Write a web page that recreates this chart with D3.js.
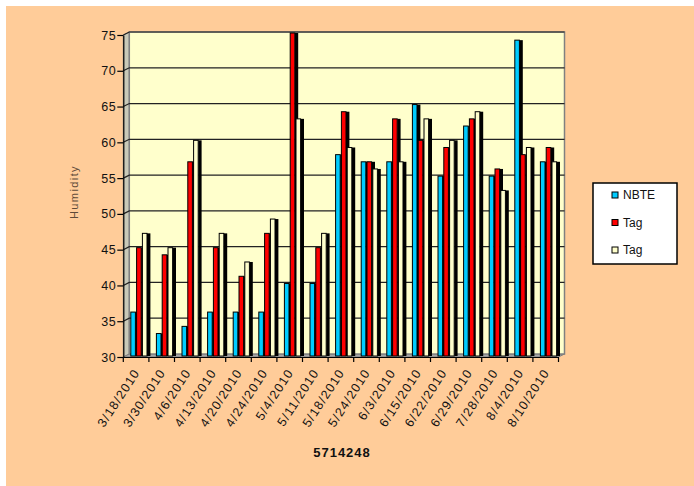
<!DOCTYPE html>
<html>
<head>
<meta charset="utf-8">
<script src="https://cdn.jsdelivr.net/npm/d3@7"></script>
<style>
  html, body { margin: 0; padding: 0; background: #ffffff; }
  svg { display: block; }
  text { font-family: "Liberation Sans", Arial, sans-serif; }
</style>
</head>
<body>
<svg id="chart" width="694" height="486"></svg>
<script>
// Sampling dates for station 5714248
const categories = ["3/18/2010", "3/30/2010", "4/6/2010", "4/13/2010", "4/20/2010", "4/24/2010",
  "5/4/2010", "5/11/2010", "5/18/2010", "5/24/2010", "6/3/2010", "6/15/2010", "6/22/2010",
  "6/29/2010", "7/28/2010", "8/4/2010", "8/10/2010"];

// Humidity readings (%)
const nbteValues = [36, 33, 34, 36, 36, 36, 40, 40, 58, 57, 57, 65, 55, 62, 55, 74, 57];
const tagValuesA = [45, 44, 57, 45, 41, 47, 75, 45, 64, 57, 63, 60, 59, 63, 56, 58, 59];
const tagValuesB = [47, 45, 60, 47, 43, 49, 63, 47, 59, 56, 57, 63, 60, 64, 53, 59, 57];

const seriesNames = ["NBTE", "Tag", "Tag"];
const seriesColors = ["#00CCFF", "#FF0000", "#FFFFCC"];
const yTickValues = [30, 35, 40, 45, 50, 55, 60, 65, 70, 75];

const series = [nbteValues, tagValuesA, tagValuesB].map((vals, s) => ({
  name: seriesNames[s], color: seriesColors[s], index: s,
  values: vals.map((v, i) => ({ cat: categories[i], value: v }))
}));

const svg = d3.select("#chart");

// chart background (thin white margin on top and left)
svg.append("rect").attr("x", 6).attr("y", 6).attr("width", 688).attr("height", 480)
  .attr("fill", "#FFCC99");

const xLeft = 123.3, xRight = 558.5;
const x = d3.scaleBand().domain(categories).range([xLeft, xRight]);
const y = d3.scaleLinear().domain([30, 75]).range([357, 35]);
const depthX = 6, depthY = -3;

// 3D walls: left wall, floor, back wall
const walls = svg.append("g");
walls.append("path")
  .attr("d", `M${xLeft},${y(75)}L${xLeft + depthX},${y(75) + depthY}L${xLeft + depthX},${y(30) + depthY}L${xLeft},${y(30)}Z`)
  .attr("fill", "#C9C9B8").attr("stroke", "#808080");
walls.append("path")
  .attr("d", `M${xLeft},${y(30)}L${xLeft + depthX},${y(30) + depthY}L${xRight + depthX},${y(30) + depthY}L${xRight},${y(30)}Z`)
  .attr("fill", "#A6A6A6").attr("stroke", "#808080");
walls.append("rect")
  .attr("x", xLeft + depthX).attr("y", y(75) + depthY)
  .attr("width", xRight - xLeft).attr("height", y(30) - y(75))
  .attr("fill", "#FFFFCC").attr("stroke", "#808080").attr("stroke-width", 1.5);

// gridlines across the side wall and back wall
walls.selectAll("path.grid").data(yTickValues.slice(1)).join("path")
  .attr("class", "grid")
  .attr("d", v => `M${xLeft},${y(v)}L${xLeft + depthX},${y(v) + depthY}L${xRight + depthX},${y(v) + depthY}`)
  .attr("fill", "none").attr("stroke", "#222").attr("stroke-width", 1.2);

// bars: coloured front face with a dark side face
const barPitch = 5.8, faceW = 4.6, sideW = 3.4, groupOffset = 7.5;
const barLayer = svg.append("g");
const groups = barLayer.selectAll("g.series").data(series).join("g").attr("class", "series");
groups.each(function (sr) {
  const g = d3.select(this);
  const bx = d => x(d.cat) + groupOffset + sr.index * barPitch;
  g.selectAll("rect.side").data(sr.values).join("rect").attr("class", "side")
    .attr("x", d => bx(d) + faceW).attr("y", d => y(d.value) - 2)
    .attr("width", sideW).attr("height", d => y(30) - 1 - (y(d.value) - 2))
    .attr("fill", "#000");
  g.selectAll("rect.face").data(sr.values).join("rect").attr("class", "face")
    .attr("x", d => bx(d)).attr("y", d => y(d.value) - 2)
    .attr("width", faceW).attr("height", d => y(30) - 1 - (y(d.value) - 2))
    .attr("fill", sr.color).attr("stroke", "#000").attr("stroke-width", 1);
});

// value axis
const yAxis = svg.append("g").attr("transform", `translate(${xLeft},0)`)
  .call(d3.axisLeft(y).tickValues(yTickValues).tickSize(6).tickSizeOuter(0).tickPadding(1));
yAxis.select(".domain").attr("stroke", "#000").attr("stroke-width", 1.2);
yAxis.selectAll(".tick line").attr("stroke", "#000").attr("stroke-width", 1.2);
yAxis.selectAll(".tick text").attr("font-size", 12.5).attr("letter-spacing", 0.6)
  .attr("fill", "#111").style("font-family", "'Liberation Sans', Arial, sans-serif");

// category axis with ticks on the category boundaries
const xAxis = svg.append("g").attr("transform", `translate(0,${y(30)})`)
  .call(d3.axisBottom(x).tickSize(0).tickSizeOuter(0).tickFormat(""));
xAxis.select(".domain").attr("stroke", "#000").attr("stroke-width", 1.2);
const boundaries = categories.map(c => x(c)).concat([xRight]);
xAxis.selectAll("line.bound").data(boundaries).join("line").attr("class", "bound")
  .attr("x1", d => d).attr("x2", d => d).attr("y1", 0).attr("y2", 5)
  .attr("stroke", "#000").attr("stroke-width", 1.2);
xAxis.selectAll("text.cat").data(categories).join("text").attr("class", "cat")
  .attr("transform", c => `translate(${x(c) + x.bandwidth() / 2 + 0.5},${13}) rotate(-57)`)
  .attr("text-anchor", "end").attr("dy", "0.35em")
  .attr("font-size", 12.5).attr("letter-spacing", 1.2).attr("fill", "#111")
  .text(c => c);

// axis titles
svg.append("text").attr("x", 342).attr("y", 457).attr("text-anchor", "middle")
  .attr("font-size", 13).attr("font-weight", "bold").attr("letter-spacing", 1)
  .attr("fill", "#111").text("5714248");
svg.append("text").attr("transform", "translate(78,192) rotate(-90)")
  .attr("text-anchor", "middle").attr("font-size", 11).attr("letter-spacing", 1.4)
  .attr("fill", "#5e4a38").text("Humidity");

// legend
const legend = svg.append("g").attr("transform", "translate(593,183)");
legend.append("rect").attr("width", 84).attr("height", 81)
  .attr("fill", "#fff").attr("stroke", "#000").attr("stroke-width", 1.5);
const items = legend.selectAll("g.item").data(series).join("g").attr("class", "item")
  .attr("transform", (d, i) => `translate(0,${12 + i * 27.5})`);
items.append("rect").attr("x", 19).attr("y", -3).attr("width", 6).attr("height", 6)
  .attr("fill", d => d.color).attr("stroke", "#000").attr("stroke-width", 1);
items.append("text").attr("x", 30).attr("y", 0).attr("dy", "0.35em")
  .attr("font-size", 12).attr("fill", "#111").text(d => d.name);
</script>
</body>
</html>
